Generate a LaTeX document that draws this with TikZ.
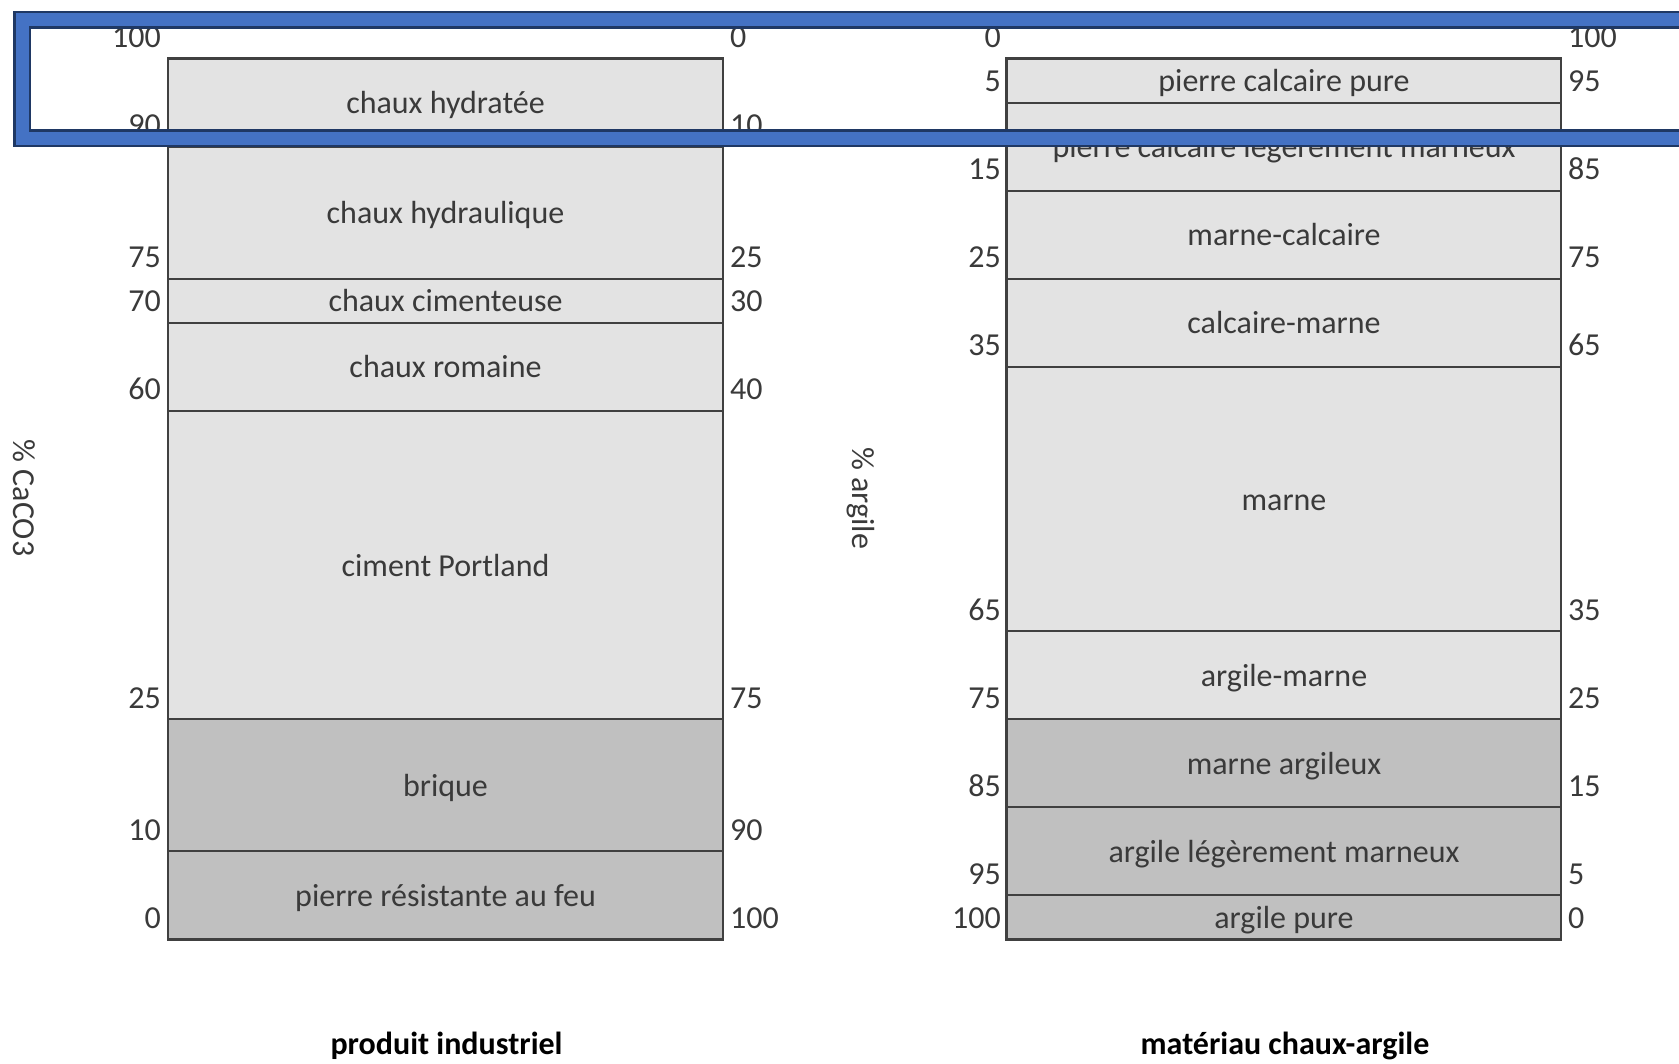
\documentclass[tikz,border=0pt]{standalone}
\usepackage{fontspec}
\setmainfont{Carlito}
\definecolor{lightfill}{HTML}{E3E3E3}
\definecolor{darkfill}{HTML}{C0C0C0}
\definecolor{txt}{HTML}{3A3A3A}
\definecolor{edge}{HTML}{404040}
\definecolor{frameblue}{HTML}{4472C4}
\definecolor{framenavy}{HTML}{1F3864}
\begin{document}
\begin{tikzpicture}[x=1pt,y=-1pt,
  declare function={yy(\a)=58.9+8.802*\a;},
  band/.style={draw=edge, line width=2.8pt},
  lbl/.style={text=txt, font=\fontsize{32}{38}\selectfont, inner sep=0pt, anchor=base},
  numl/.style={lbl, anchor=base east},
  numr/.style={lbl, anchor=base west},
  axlbl/.style={lbl, anchor=center, rotate=-90},
  title/.style={lbl, font=\fontsize{32}{38}\selectfont\bfseries, text=black}]
\useasboundingbox (0,0) rectangle (1679,1064);
\fill[white] (0,0) rectangle (1679,1064);
\clip (0,0) rectangle (1679,1064);

% left column: produit industriel
\foreach \t/\b/\f/\n/\s in {
  0/10/lightfill/lA/chaux hydratée,
  10/25/lightfill/lB/chaux hydraulique,
  25/30/lightfill/lC/chaux cimenteuse,
  30/40/lightfill/lD/chaux romaine,
  40/75/lightfill/lE/ciment Portland,
  75/90/darkfill/lF/brique,
  90/100/darkfill/lG/pierre résistante au feu}{
  \draw[band, fill=\f] (168,{yy(\t)}) rectangle (723,{yy(\b)});
  \node[lbl] (\n) at (445.5,{(yy(\t)+yy(\b))/2+11}) {\s};
}

% right column: materiau chaux-argile
\foreach \t/\b/\f/\n/\s in {
  0/5/lightfill/rA/pierre calcaire pure,
  5/15/lightfill/rB/pierre calcaire légèrement marneux,
  15/25/lightfill/rC/marne-calcaire,
  25/35/lightfill/rD/calcaire-marne,
  35/65/lightfill/rE/marne,
  65/75/lightfill/rF/argile-marne,
  75/85/darkfill/rG/marne argileux,
  85/95/darkfill/rH/argile légèrement marneux,
  95/100/darkfill/rI/argile pure}{
  \draw[band, fill=\f] (1006.6,{yy(\t)}) rectangle (1561,{yy(\b)});
  \node[lbl] (\n) at (1284,{(yy(\t)+yy(\b))/2+11}) {\s};
}

% scale numbers, left column
\foreach \v/\t in {100/0,90/10,75/25,70/30,60/40,25/75,10/90,0/100}{
  \node[numl] (ll\t) at (161,{yy(\t)-11}) {\v};
}
\foreach \t in {0,10,25,30,40,75,90,100}{
  \node[numr] (lr\t) at (730,{yy(\t)-11}) {\t};
}
% scale numbers, right column
\foreach \t in {0,5,15,25,35,65,75,85,95,100}{
  \node[numl] (rl\t) at (1001,{yy(\t)-11}) {\t};
}
\foreach \v/\t in {100/0,95/5,85/15,75/25,65/35,35/65,25/75,15/85,5/95,0/100}{
  \node[numr] (rr\t) at (1568,{yy(\t)-11}) {\v};
}

% axis labels
\node[axlbl] (axcaco) at (24.5,498) {\% CaCO3};
\node[axlbl] (axarg) at (861,498) {\% argile};

% titles
\node[title] (tleft) at (446.5,1054) {produit industriel};
\node[title] (tright) at (1285,1054) {matériau chaux-argile};

% blue highlight frame
\draw[framenavy, line width=18pt] (22,20) rectangle (1720,138.5);
\draw[frameblue, line width=13pt] (22,20) rectangle (1720,138.5);
\end{tikzpicture}
\end{document}
